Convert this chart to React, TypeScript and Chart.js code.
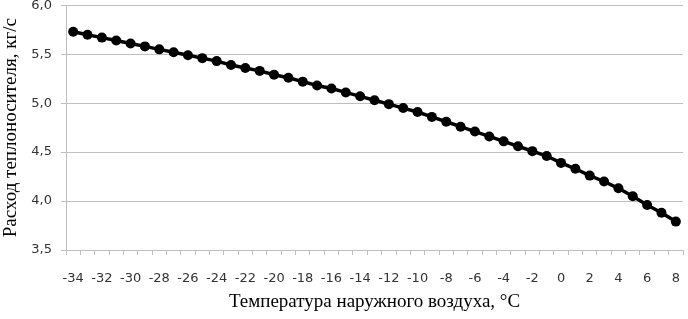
import React, { useEffect, useRef } from "react";
import { Chart, registerables } from "chart.js";

Chart.register(...registerables);

const temperatures: number[] = [
  -34, -33, -32, -31, -30, -29, -28, -27, -26, -25, -24, -23, -22, -21, -20,
  -19, -18, -17, -16, -15, -14, -13, -12, -11, -10, -9, -8, -7, -6, -5, -4,
  -3, -2, -1, 0, 1, 2, 3, 4, 5, 6, 7, 8,
];

const flowRate: number[] = [
  5.73, 5.70, 5.67, 5.64, 5.61, 5.58, 5.55, 5.52, 5.49, 5.46, 5.43, 5.39,
  5.36, 5.33, 5.29, 5.26, 5.22, 5.18, 5.15, 5.11, 5.07, 5.03, 4.99, 4.95,
  4.91, 4.86, 4.81, 4.76, 4.71, 4.66, 4.61, 4.56, 4.51, 4.46, 4.39, 4.33,
  4.26, 4.20, 4.13, 4.05, 3.96, 3.88, 3.79,
];

const yMin = 3.5;
const yMax = 6.0;
const yStep = 0.5;

const xTitle = "Температура наружного воздуха, °С";
const yTitle = "Расход теплоносителя, кг/с";

export default function App() {
  const canvasRef = useRef<HTMLCanvasElement | null>(null);

  useEffect(() => {
    document.body.style.margin = "0";
    const ctx = canvasRef.current;
    if (!ctx) return;
    const chart = new Chart(ctx, {
      type: "line",
      data: {
        labels: temperatures.map((t) => String(t)),
        datasets: [
          {
            data: flowRate,
            borderColor: "#000000",
            backgroundColor: "#000000",
            borderWidth: 3.5,
            pointRadius: 5,
            pointBackgroundColor: "#000000",
            pointBorderColor: "#000000",
            pointBorderWidth: 0,
            tension: 0,
          },
        ],
      },
      options: {
        animation: false,
        responsive: false,
        maintainAspectRatio: false,
        layout: { padding: { left: 0, right: -1.5, top: 0, bottom: 6 } },
        plugins: {
          legend: { display: false },
          tooltip: { enabled: false },
        },
        scales: {
          x: {
            type: "category",
            offset: true,
            grid: {
              offset: true,
              drawOnChartArea: false,
              drawTicks: true,
              tickLength: 5,
              color: "#bfbfbf",
            },
            border: { display: true, color: "#bfbfbf", width: 1 },
            ticks: {
              autoSkip: false,
              maxRotation: 0,
              padding: 16,
              color: "#333333",
              font: { family: "DejaVu Sans", size: 13 },
              callback: (_v: any, i: number) =>
                temperatures[i] % 2 === 0 ? String(temperatures[i]) : "",
            },
            title: {
              display: true,
              text: xTitle,
              color: "#000000",
              font: { family: "Liberation Serif", size: 19 },
              padding: { top: 4, bottom: 0 },
            },
            afterFit: (s: any) => {
              s.height = 63;
              s.paddingLeft = 0;
              s.paddingRight = 0;
            },
          },
          y: {
            min: yMin,
            max: yMax,
            grid: {
              color: "#bfbfbf",
              drawTicks: true,
              tickLength: 5,
            },
            border: { display: true, color: "#bfbfbf", width: 1 },
            ticks: {
              stepSize: yStep,
              padding: 9,
              color: "#333333",
              font: { family: "DejaVu Sans", size: 13 },
              callback: (v: any) => Number(v).toFixed(1).replace(".", ","),
            },
            title: {
              display: true,
              text: yTitle,
              color: "#000000",
              font: { family: "Liberation Serif", size: 19 },
              padding: { top: 0, bottom: 9 },
            },
            afterFit: (s: any) => {
              s.width = 66;
              s.paddingTop = 5.3;
              s.paddingBottom = 0;
            },
          },
        },
      },
    });
    return () => chart.destroy();
  }, []);

  return (
    <div style={{ width: 688, height: 319, position: "relative" }}>
      <canvas ref={canvasRef} width={688} height={319} style={{ width: 688, height: 319 }} />
    </div>
  );
}
